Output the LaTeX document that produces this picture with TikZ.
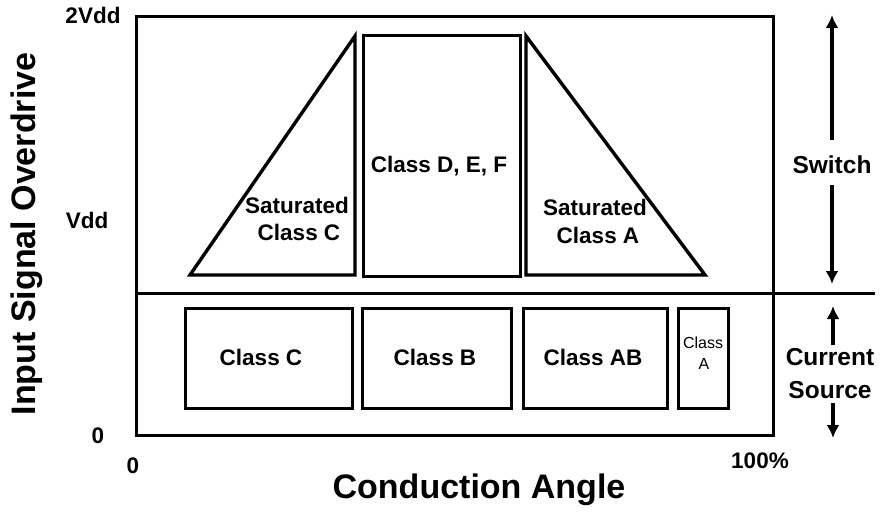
\documentclass[tikz,border=0pt]{standalone}
\usepackage{fontspec}
\setmainfont{Liberation Sans}
\usetikzlibrary{arrows.meta}
\begin{document}
\begin{tikzpicture}[x=1pt,y=-1pt,
  shapeline/.style={line width=3.4pt, line join=miter},
  cbox/.style={draw, line width=3.4pt, inner sep=0pt, anchor=north west},
  lbl/.style={font=\bfseries\fontsize{22.5}{24}\selectfont, inner sep=0pt, anchor=base, align=center},
  big/.style={font=\bfseries\fontsize{34}{36}\selectfont, inner sep=0pt},
  side/.style={font=\bfseries\fontsize{24.5}{30}\selectfont, inner sep=0pt, anchor=base, align=center},
  small/.style={font=\fontsize{16}{16}\selectfont, inner sep=0pt, anchor=base},
  arr/.style={line width=3.8pt, -{Latex[length=13pt,width=13pt]}}
]
\useasboundingbox (0,0) rectangle (884,512);
% frame
\node[cbox, minimum width=637pt, minimum height=419pt] (frame) at (135,15) {};
\coordinate (hl) at (135,293);
\coordinate (hr) at (875,293);
\draw[line width=3pt] (hl) -- (hr);
% upper shapes
\coordinate (tcA) at (190,275);
\coordinate (tcB) at (355,36);
\coordinate (tcC) at (355,275);
\draw[shapeline] (tcA) -- (tcB) -- (tcC) -- cycle;
\node[cbox, minimum width=157pt, minimum height=241pt] (def) at (362,34) {};
\coordinate (taA) at (526,36);
\coordinate (taB) at (526,275);
\coordinate (taC) at (705,275);
\draw[shapeline] (taA) -- (taC) -- (taB) -- cycle;
% lower boxes
\node[cbox, minimum width=167pt, minimum height=100pt] (bc) at (184,307) {};
\node[cbox, minimum width=149pt, minimum height=100pt] (bb) at (361,307) {};
\node[cbox, minimum width=144pt, minimum height=100pt] (bab) at (522,307) {};
\node[cbox, minimum width=50pt, minimum height=100pt] (ba) at (677,307) {};
% labels in shapes
\node[lbl] (satc1) at (297,213) {Saturated};
\node[lbl] (satc2) at (299,240) {Class C};
\node[lbl] (deft) at (439,172) {Class D, E, F};
\node[lbl] (sata1) at (595,215) {Saturated};
\node[lbl] (sata2) at (598,243) {Class A};
\node[lbl] (tc) at (261,365) {Class C};
\node[lbl] (tb) at (435,365) {Class B};
\node[lbl] (tab) at (593,365) {Class AB};
\node[small] (ta1) at (703,348) {Class};
\node[small] (ta2) at (704,369) {A};
% axis labels
\node[lbl] (v2) at (93,23) {2Vdd};
\node[lbl] (v1) at (87,228) {Vdd};
\node[lbl] (y0) at (98,443) {0};
\node[lbl] (x0) at (133,473) {0};
\node[lbl] (x100) at (760,468) {100\%};
\node[big, anchor=base] (xt) at (479,498) {Conduction Angle};
\node[big, rotate=90] (yt) at (27,234) {Input Signal Overdrive};
% side labels
\node[side] (sw) at (832,173) {Switch};
\node[side] (cs1) at (830,365) {Current};
\node[side] (cs2) at (830,398) {Source};
\coordinate (swt) at (832,15);
\coordinate (swb) at (832,284);
\coordinate (swu) at (832,140);
\coordinate (swd) at (832,185);
\draw[arr] (swu) -- (swt);
\draw[arr] (swd) -- (swb);
\coordinate (cst) at (833,306);
\coordinate (csb) at (833,438);
\coordinate (csu) at (833,345);
\coordinate (csd) at (833,403);
\draw[arr] (csu) -- (cst);
\draw[arr] (csd) -- (csb);
\end{tikzpicture}
\end{document}
